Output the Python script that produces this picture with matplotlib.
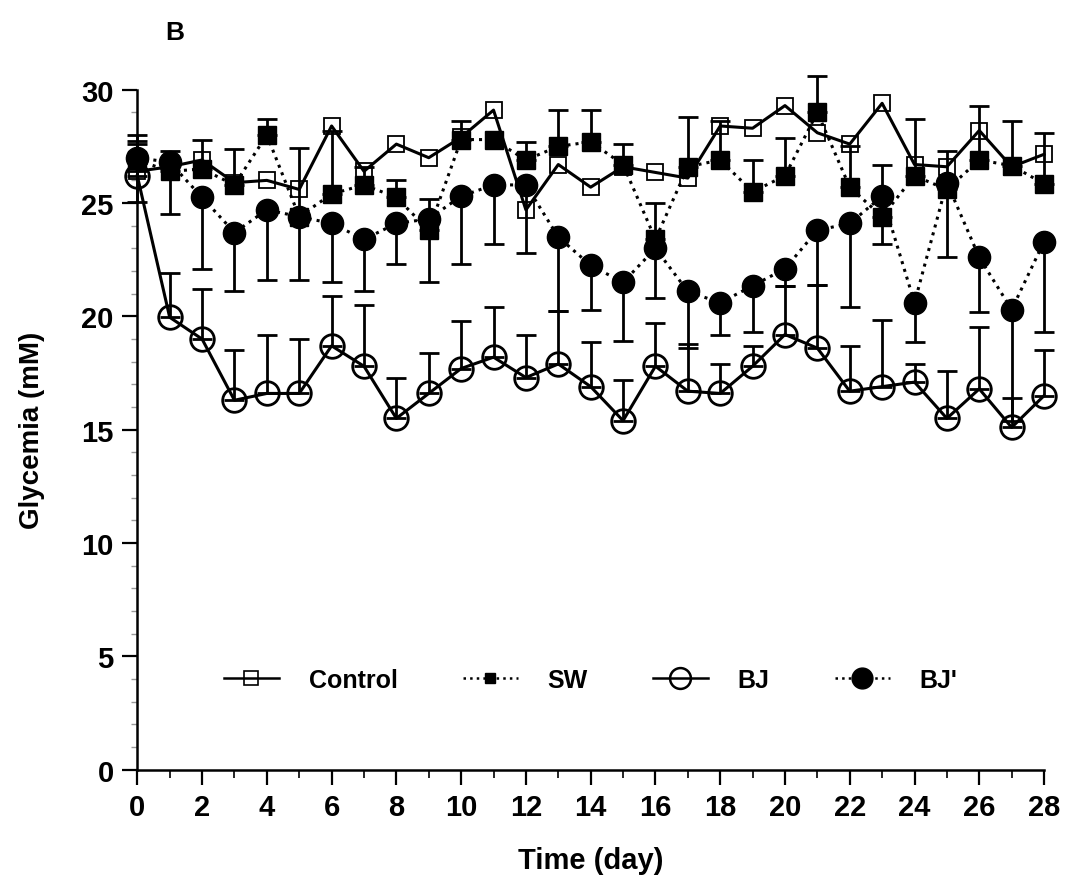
import numpy as np
import matplotlib
matplotlib.use('Agg')
import matplotlib.pyplot as plt
from matplotlib.ticker import MultipleLocator

plt.rcParams['font.family'] = ['Liberation Sans', 'DejaVu Sans']
plt.rcParams['font.weight'] = 'bold'
FS = 21

days = np.arange(0, 29)

control = [26.4, 26.6, 26.9, 25.9, 26.0, 25.6, 28.4, 26.4, 27.6, 27.0,
           27.9, 29.1, 24.7, 26.7, 25.7, 26.6, 26.35, 26.1, 28.4, 28.3,
           29.3, 28.1, 27.6, 29.4, 26.7, 26.6, 28.2, 26.6, 27.15]
control_up = [1.2] + [0.0] * 28

sw = [26.9, 26.4, 26.5, 25.8, 28.0, 24.4, 25.4, 25.8, 25.25, 23.8,
      27.8, 27.8, 26.9, 27.5, 27.7, 26.7, 23.4, 26.6, 26.9, 25.5,
      26.2, 29.0, 25.7, 24.4, 26.2, 25.6, 26.9, 26.65, 25.85]
sw_up = [0.85, 0.9, 1.3, 1.6, 0.7, 3.05, 2.8, 0.8, 0.75, 1.4,
         0.8, 0.0, 0.8, 1.6, 1.4, 0.9, 1.6, 2.2, 1.7, 1.4,
         1.65, 1.6, 1.8, 2.3, 2.5, 1.7, 2.4, 1.95, 2.25]

bj = [26.2, 19.96, 19.0, 16.3, 16.6, 16.6, 18.7, 17.8, 15.5, 16.6,
      17.7, 18.2, 17.3, 17.9, 16.9, 15.4, 17.8, 16.7, 16.6, 17.8,
      19.2, 18.6, 16.7, 16.9, 17.1, 15.5, 16.8, 15.1, 16.5]
bj_up = [1.8, 1.95, 2.2, 2.2, 2.6, 2.4, 2.2, 2.7, 1.8, 1.8,
         2.1, 2.2, 1.9, 2.35, 1.95, 1.8, 1.9, 2.1, 1.3, 0.9,
         2.15, 2.8, 2.0, 2.95, 0.8, 2.1, 2.75, 1.3, 2.0]

bjp = [27.0, 26.8, 25.25, 23.7, 24.7, 24.4, 24.1, 23.4, 24.1, 24.3,
       25.3, 25.8, 25.8, 23.5, 22.25, 21.5, 23.0, 21.1, 20.6, 21.35,
       22.1, 23.8, 24.1, 25.3, 20.6, 25.9, 22.6, 20.3, 23.3]
bjp_down = [1.94, 2.3, 3.15, 2.6, 3.1, 2.8, 2.6, 2.3, 1.8, 2.8,
            3.0, 2.6, 3.0, 3.25, 1.95, 2.6, 2.2, 2.5, 1.4, 2.05,
            0.75, 2.4, 3.7, 2.1, 1.75, 3.3, 2.4, 4.9, 4.0]

labels = ['Control', 'SW', 'BJ', "BJ'"]

fig = plt.figure(figsize=(10.66, 8.79), dpi=100)
ax = fig.add_axes([0.1288, 0.1232, 0.8506, 0.7736])

LW = 2.2
ebkw = dict(fmt='none', ecolor='black', elinewidth=2.0, capsize=7.5,
            capthick=2.0, clip_on=False, zorder=2)


def upper_bars(y, err):
    y = np.asarray(y)
    err = np.asarray(err)
    m = err > 0
    ax.errorbar(days[m], y[m], yerr=[np.zeros(m.sum()), err[m]], **ebkw)


def lower_bars(y, err):
    y = np.asarray(y)
    err = np.asarray(err)
    m = err > 0
    ax.errorbar(days[m], y[m], yerr=[err[m], np.zeros(m.sum())], **ebkw)


upper_bars(control, control_up)
upper_bars(sw, sw_up)
upper_bars(bj, bj_up)
lower_bars(bjp, bjp_down)

ax.plot(days, control, '-', color='black', lw=LW, marker='s', ms=11,
        mfc='none', mec='black', mew=1.3, clip_on=False, zorder=3)
ax.plot(days, sw, ':', color='black', lw=LW, marker='s', ms=13,
        mfc='black', mec='black', clip_on=False, zorder=4)
ax.plot(days, bj, '-', color='black', lw=LW, marker='o', ms=17,
        mfc='none', mec='black', mew=2.0, clip_on=False, zorder=3)
ax.plot(days, bjp, ':', color='black', lw=LW, marker='o', ms=16,
        mfc='black', mec='black', clip_on=False, zorder=4)

# legend handles drawn a bit smaller than the data markers
lh = [
    plt.Line2D([], [], ls='-', color='black', lw=1.8, marker='s', ms=10,
               mfc='none', mew=1.2),
    plt.Line2D([], [], ls=':', color='black', lw=1.8, marker='s', ms=7,
               mfc='black'),
    plt.Line2D([], [], ls='-', color='black', lw=1.8, marker='o', ms=15,
               mfc='none', mew=1.8),
    plt.Line2D([], [], ls=':', color='black', lw=1.8, marker='o', ms=15,
               mfc='black'),
]
ax.legend(lh, labels, ncol=4, loc='center', bbox_to_anchor=(0.50, 0.132),
          frameon=False, handlelength=2.2, handletextpad=1.2,
          columnspacing=2.6, prop={'weight': 'bold', 'size': FS - 3})

ax.set_xlim(0, 28)
ax.set_ylim(0, 30)
ax.xaxis.set_major_locator(MultipleLocator(2))
ax.xaxis.set_minor_locator(MultipleLocator(1))
ax.yaxis.set_major_locator(MultipleLocator(5))
ax.yaxis.set_minor_locator(MultipleLocator(1))

for s in ['top', 'right']:
    ax.spines[s].set_visible(False)
for s in ['left', 'bottom']:
    ax.spines[s].set_linewidth(1.8)

ax.tick_params(axis='both', which='major', direction='out', length=11,
               width=1.6, labelsize=FS, pad=6)
ax.tick_params(axis='x', which='minor', direction='out', length=6,
               width=1.2)
ax.tick_params(axis='y', which='minor', direction='out', length=4,
               width=1.0, color='#999999')
for t in ax.get_xticklabels() + ax.get_yticklabels():
    t.set_fontweight('bold')

ax.set_xlabel('Time (day)', fontsize=FS, fontweight='bold', labelpad=18)
ax.set_ylabel('Glycemia (mM)', fontsize=FS - 1, fontweight='bold',
              labelpad=26)

fig.text(0.155, 0.962, 'B', fontsize=FS - 2, fontweight='bold', va='center')

fig.savefig('out.png', dpi=100)
